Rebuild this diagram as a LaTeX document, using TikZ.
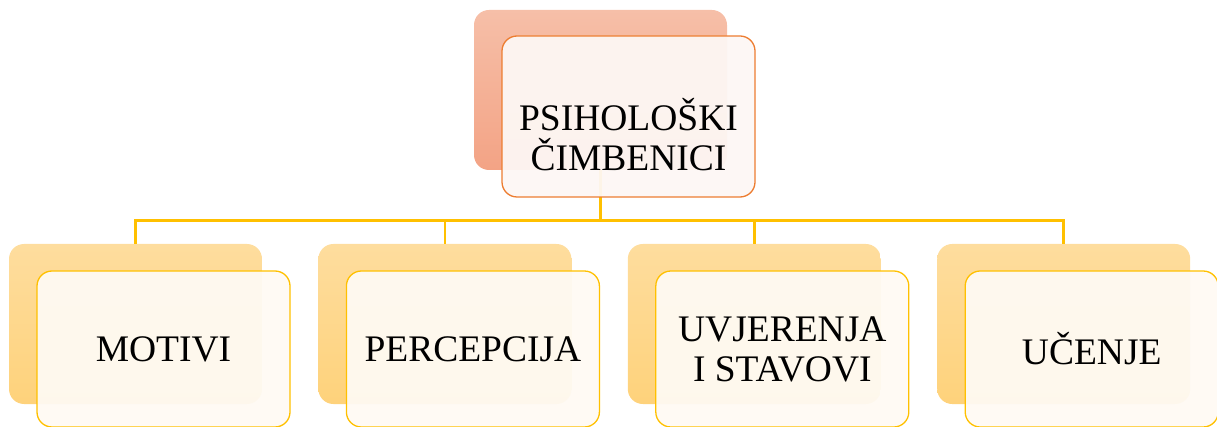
\documentclass[tikz,border=0pt]{standalone}
\usepackage{fontspec}
\setmainfont{Liberation Serif}
\usetikzlibrary{positioning}

\definecolor{salmontop}{HTML}{F6BFA8}
\definecolor{salmonbot}{HTML}{F3A385}
\definecolor{salmonline}{HTML}{ED7D31}
\definecolor{salmonfront}{HTML}{FDF7F4}
\definecolor{goldtop}{HTML}{FEDD9E}
\definecolor{goldbot}{HTML}{FED27B}
\definecolor{goldline}{HTML}{FFC000}
\definecolor{goldfront}{HTML}{FFFAF3}

\begin{document}
\begin{tikzpicture}[x=1pt,y=-1pt,
    back/.style={rounded corners=15pt,minimum width=253pt,minimum height=160pt,inner sep=0pt},
    backtop/.style={back,top color=salmontop,bottom color=salmonbot},
    backsub/.style={back,top color=goldtop,bottom color=goldbot},
    front/.style={rounded corners=15pt,minimum width=253pt,inner sep=0pt,line width=1.3pt,
                  fill opacity=0.95,text opacity=1,align=center,font=\fontsize{37.5}{40}\selectfont},
    fronttop/.style={front,draw=salmonline,fill=salmonfront,minimum height=161pt},
    frontsub/.style={front,draw=goldline,fill=goldfront,minimum height=156pt},
    link/.style={draw=goldline,line width=2.8pt}]
  \useasboundingbox (0,0) rectangle (1217,427);
  % back boxes
  \node[backtop] (psih) at (600.5,90) {};
  \node[backsub] (motivi)     at (135.5,324)          {};
  \node[backsub] (percepcija) [right=56pt of motivi]     {};
  \node[backsub] (uvjerenja)  [right=56pt of percepcija] {};
  \node[backsub] (ucenje)     [right=56pt of uvjerenja]  {};
  % connectors
  \foreach \n in {motivi,percepcija,uvjerenja,ucenje}
    \draw[link] (psih.south) -- ++(0,50) -| (\n.north);
  % front boxes
  \node[fronttop] (psihf) at ([shift={(28,26.5)}]psih.center) {};
  \node[font=\fontsize{37.5}{40}\selectfont,align=center] (psihtxt) at ([yshift=-18pt]psihf.center) {PSIHOLOŠKI\\ČIMBENICI};
  \node[frontsub] (motivif)     at ([shift={(28,25)}]motivi.center)     {MOTIVI};
  \node[frontsub] (percepcijaf) at ([shift={(28,25)}]percepcija.center) {PERCEPCIJA};
  \node[frontsub] (uvjerenjaf)  at ([shift={(28,25)}]uvjerenja.center)  {UVJERENJA\\I STAVOVI};
  \node[frontsub] (ucenjef)     at ([shift={(28,25)}]ucenje.center)     {UČENJE};
\end{tikzpicture}
\end{document}
